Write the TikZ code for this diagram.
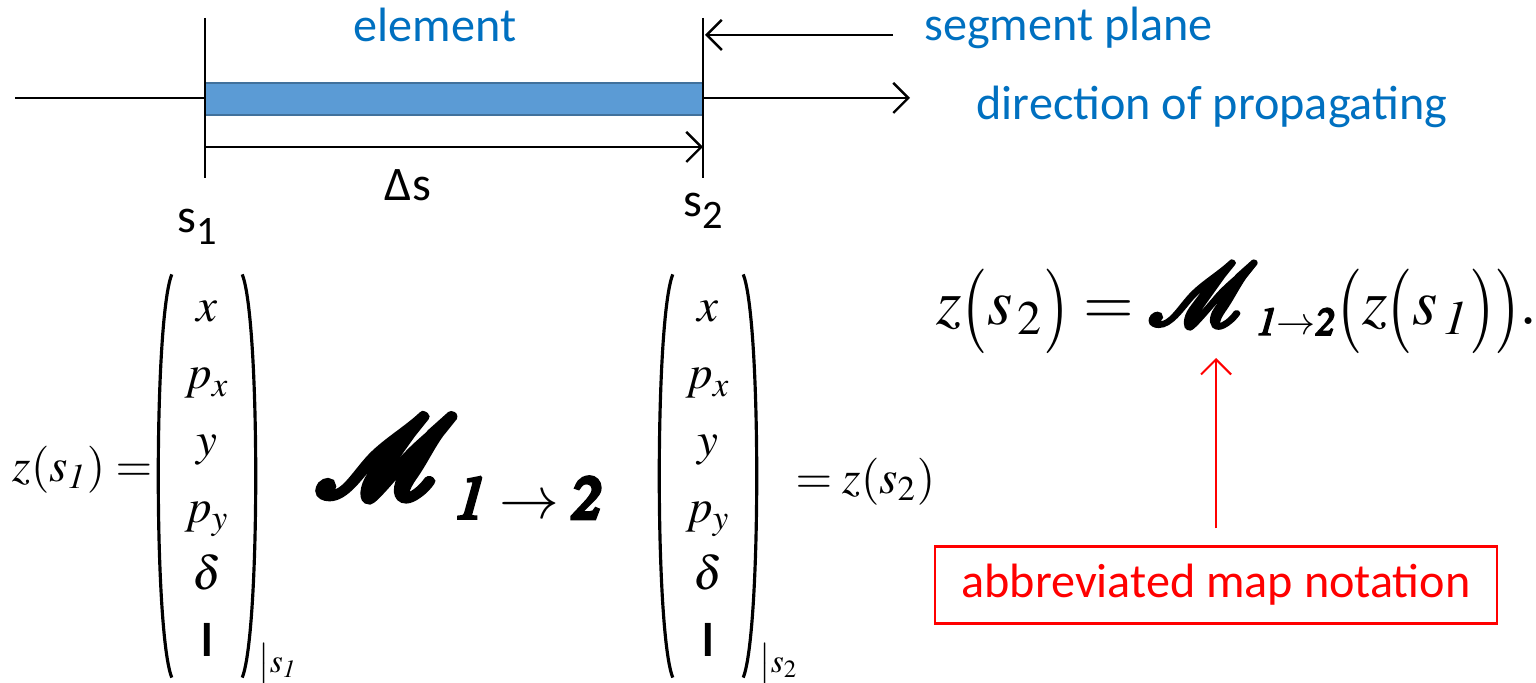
\documentclass[tikz,border=0pt]{standalone}
\usepackage{mathptmx}
\usepackage{amsmath}
\usepackage{graphicx}
\usepackage[no-math]{fontspec}
\setmainfont{Carlito}
\usetikzlibrary{arrows.meta, calc}
\definecolor{elemblue}{HTML}{5B9BD5}
\definecolor{elemedge}{HTML}{41719C}
\definecolor{labelblue}{HTML}{0070C0}
\renewcommand{\arraystretch}{1.19}
\setlength{\arraycolsep}{0pt}
% thicken a glyph by stroking its outline
\newcommand{\inked}[2]{\special{pdf:literal direct 2 Tr #1 w}#2\special{pdf:literal direct 0 Tr}}
% tall thin parentheses
\newcommand{\lpar}{\mathopen{\raisebox{-0.12em}{\scalebox{1}[1.3]{$($}}}}
\newcommand{\rpar}{\mathclose{\raisebox{-0.12em}{\scalebox{1}[1.3]{$)$}}}}
\newcommand{\phasevec}{$\begin{array}{c} x\\ p_x\\ y\\ p_y\\ \delta\\ \textbf{l}\end{array}$}
\begin{document}
\begin{tikzpicture}[x=0.01cm, y=-0.01cm, >={Straight Barb[length=1.5mm,width=3mm]},
    lbl/.style={font=\fontsize{13.7}{16}\selectfont, text=labelblue},
    tag/.style={font=\fontsize{13.7}{16}\selectfont},
    eq/.style={font=\fontsize{13.4}{16}\selectfont, inner sep=0pt},
    vecbox/.style={eq, minimum width=0.95cm, minimum height=3.87cm},
    subtag/.style={font=\fontsize{9.5}{11}\selectfont, inner sep=0pt, anchor=west},
    paren/.style={line width=0.9pt},
    thinline/.style={line width=0.3pt},
    thickline/.style={line width=0.7pt},
    elembox/.style={draw=elemedge, fill=elemblue, line width=0.6pt, minimum width=4.98cm, minimum height=0.32cm, inner sep=0pt},
    notebox/.style={draw=red, line width=0.6pt, text=red, font=\fontsize{13.7}{16}\selectfont, minimum width=5.62cm, minimum height=0.77cm}]
  \useasboundingbox (0,0) rectangle (1536,683);
  % beam line with the element between the two planes
  \coordinate (inL) at (15,98); \coordinate (outR) at (910,98);
  \coordinate (s1t) at (205,18); \coordinate (s1b) at (205,178);
  \coordinate (s2t) at (703,18); \coordinate (s2b) at (703,178);
  \draw[thickline, ->] (inL) -- (outR);
  \node[elembox] (elem) at (454,99) {};
  \draw[thinline] (s1t) -- (s1b);
  \draw[thinline] (s2t) -- (s2b);
  \draw[thickline, ->] (s1t |- 0,147) -- (s2t |- 0,147);
  \node[lbl] (elemlbl) at (435,25) {element};
  \node[lbl, anchor=west] (planelbl) at (912,28) {segment plane};
  \coordinate (planetail) at (893,35); \coordinate (planetip) at (705,35);
  \draw[thickline, ->] (planetail) -- (planetip);
  \node[lbl] (dirlbl) at (1212,107) {direction of propagating};
  \node[tag] (dslbl) at (408,185) {Δs};
  \node[tag] (s1lbl) at (197,227) {s\raisebox{-0.5ex}{\fontsize{11.5}{12}\selectfont 1}};
  \node[tag] (s2lbl) at (703,211) {s\raisebox{-0.5ex}{\fontsize{11.5}{12}\selectfont 2}};
  % phase space vectors and the map between them
  \node[eq, anchor=east] (zA) at (153,470) {$z(s_{\mathit{1}})=$};
  \node[vecbox] (vecA) at (207,476) {\phasevec};
  \node[subtag] (subA) at (258,664) {$\big|s_{\mathit{1}}$};
  \node[vecbox] (vecB) at (708,476) {\phasevec};
  \node[subtag] (subB) at (759,664) {$\big|s_{2}$};
  \foreach \v in {vecA,vecB} {
    \draw[paren] ($(\v.north west)+(13,0)$) .. controls ($(\v.north west)+(-5,45)$) and ($(\v.south west)+(-5,-45)$) .. ($(\v.south west)+(13,0)$);
    \draw[paren] ($(\v.north east)+(-13,0)$) .. controls ($(\v.north east)+(5,45)$) and ($(\v.south east)+(5,-45)$) .. ($(\v.south east)+(-13,0)$);
  }
  \node[inner sep=0pt, font=\fontsize{32}{32}\selectfont] (mapA) at (386,457) {$\inked{2.4}{\mathcal{M}}$};
  \node[inner sep=0pt, font=\fontsize{17}{17}\selectfont] (mapAsub) at (529,498) {$\inked{1}{\mathit{1}}\rightarrow\inked{1.4}{\mathit{2}}$};
  \node[eq, anchor=west] (zB) at (795,482) {$=z(s_{2})$};
  \node[inner sep=0pt, anchor=base west, font=\fontsize{18.5}{24}\selectfont] (mapeq) at (936,325) {$z\lpar s_{\,2}\rpar={\scalebox{1.35}{$\inked{1}{\mathcal{M}}$}}_{\scriptscriptstyle\inked{0.5}{\mathit{1}}\rightarrow\inked{0.6}{\mathit{2}}}\lpar z\lpar s_{\,\mathit{1}}\rpar\rpar.$};
  \coordinate (maptip) at (1216,358);
  \node[notebox] (note) at (1216,585) {abbreviated map notation};
  \draw[red, line width=0.6pt, ->, shorten <=1.7mm] (note.north) -- (maptip);
\end{tikzpicture}
\end{document}
